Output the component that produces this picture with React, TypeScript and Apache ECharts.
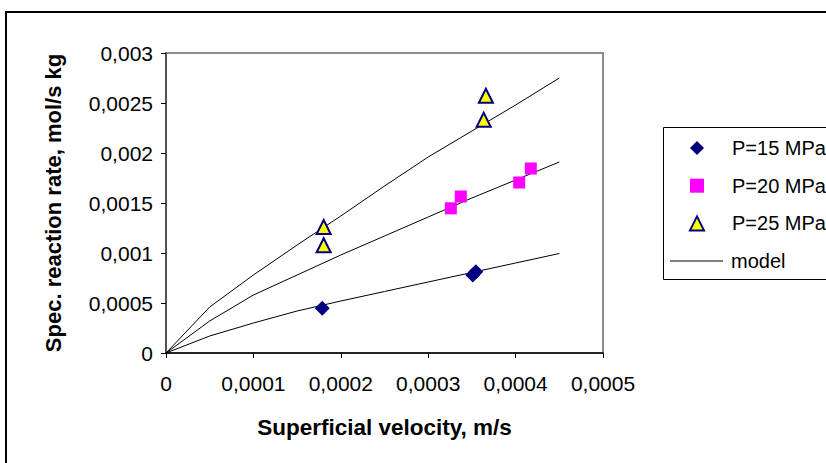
import React, { useEffect, useRef } from "react";
import * as echarts from "echarts";

// P = 15 MPa measurements
const p15X = [0.0001788, 0.000351, 0.0003545];
const p15Y = [0.000447, 0.00078, 0.000813];
// P = 20 MPa measurements
const p20X = [0.0003259, 0.0003373, 0.0004041, 0.0004174];
const p20Y = [0.001447, 0.001565, 0.001705, 0.001845];
// P = 25 MPa measurements
const p25X = [0.0001804, 0.0001804, 0.0003635, 0.000366];
const p25Y = [0.00126, 0.001077, 0.002333, 0.002573];
// model curves
const modelX = [0, 0.00005, 0.0001, 0.00015, 0.0002, 0.00025, 0.0003, 0.00035, 0.0004, 0.00045];
const model15 = [0, 0.00017, 0.0003, 0.00042, 0.00052, 0.000615, 0.00071, 0.000805, 0.0009, 0.000995];
const model20 = [0, 0.00032, 0.00058, 0.00078, 0.00098, 0.00117, 0.00136, 0.00155, 0.00173, 0.00191];
const model25 = [0, 0.00046, 0.00078, 0.00108, 0.00137, 0.00167, 0.00196, 0.00222, 0.00248, 0.00275];

const seriesNames = ["P=15 MPa", "P=20 MPa", "P=25 MPa", "model"];
const xTitle = "Superficial velocity, m/s";
const yTitle = "Spec. reaction rate, mol/s kg";

const FONT = "'Liberation Sans', Arial, sans-serif";

const zip = (xs: number[], ys: number[]) => xs.map((x, i) => [x, ys[i]]);
const fmt = (v: number) => String(Number(v.toFixed(6))).replace(".", ",");

export default function App() {
  const ref = useRef<HTMLDivElement>(null);
  useEffect(() => {
    if (!ref.current) return;
    const chart = echarts.init(ref.current, undefined, { renderer: "svg" });
    const modelLine = (ys: number[]) => ({
      name: seriesNames[3],
      type: "line",
      data: zip(modelX, ys),
      symbol: "none",
      showSymbol: false,
      smooth: false,
      lineStyle: { color: "#000", width: 1 },
      itemStyle: { color: "#000" },
      z: 2,
    });
    const legendText = (padLeft: number) => ({
      fontFamily: FONT,
      fontSize: 20,
      color: "#000",
      lineHeight: 22,
      padding: [0, 0, 0, padLeft],
    });
    chart.setOption({
      animation: false,
      backgroundColor: "#fff",
      textStyle: { fontFamily: FONT },
      graphic: [
        {
          type: "rect",
          shape: { x: 6, y: 12, width: 900, height: 500 },
          style: { fill: "none", stroke: "#000", lineWidth: 2 },
          silent: true,
        },
        {
          type: "rect",
          shape: { x: 663.5, y: 127.5, width: 250, height: 152 },
          style: { fill: "none", stroke: "#000", lineWidth: 1 },
          silent: true,
        },
      ],
      grid: {
        left: 166,
        top: 53,
        width: 437,
        height: 300,
        show: true,
        borderColor: "#8c8c8c",
        borderWidth: 2,
        backgroundColor: "transparent",
      },
      legend: [
        {
          orient: "vertical",
          left: 689,
          top: 137,
          padding: 0,
          itemWidth: 14,
          itemHeight: 14,
          itemGap: 15.7,
          data: seriesNames.slice(0, 3),
          textStyle: legendText(23),
        },
        {
          orient: "vertical",
          left: 670,
          top: 250,
          padding: 0,
          itemWidth: 53,
          itemHeight: 1,
          data: [{ name: seriesNames[3], icon: "rect" }],
          itemStyle: { color: "#000" },
          textStyle: legendText(3),
        },
      ],
      xAxis: {
        type: "value",
        min: 0,
        max: 0.0005,
        interval: 0.0001,
        name: xTitle,
        nameLocation: "middle",
        nameGap: 63,
        nameTextStyle: { fontFamily: FONT, fontSize: 22.5, fontWeight: "bold", color: "#000" },
        axisLine: { show: true, lineStyle: { color: "#000", width: 1.5 } },
        axisTick: { show: true, inside: false, length: 5, lineStyle: { color: "#000" } },
        axisLabel: {
          formatter: fmt,
          fontFamily: FONT,
          fontSize: 21,
          color: "#000",
          margin: 20,
        },
        splitLine: { show: false },
      },
      yAxis: {
        type: "value",
        min: 0,
        max: 0.003,
        interval: 0.0005,
        name: yTitle,
        nameLocation: "middle",
        nameGap: 102,
        nameTextStyle: { fontFamily: FONT, fontSize: 22, fontWeight: "bold", color: "#000" },
        axisLine: { show: true, lineStyle: { color: "#404040", width: 1.5 } },
        axisTick: { show: true, inside: false, length: 5, lineStyle: { color: "#000" } },
        axisLabel: {
          formatter: fmt,
          fontFamily: FONT,
          fontSize: 21,
          color: "#000",
          margin: 13,
        },
        splitLine: { show: false },
      },
      series: [
        modelLine(model15),
        modelLine(model20),
        modelLine(model25),
        {
          name: seriesNames[0],
          type: "scatter",
          data: zip(p15X, p15Y),
          symbol: "diamond",
          symbolSize: 15,
          itemStyle: { color: "#000080", opacity: 1 },
          z: 3,
        },
        {
          name: seriesNames[1],
          type: "scatter",
          data: zip(p20X, p20Y),
          symbol: "rect",
          symbolSize: 12,
          itemStyle: { color: "#ff00ff", opacity: 1 },
          z: 3,
        },
        {
          name: seriesNames[2],
          type: "scatter",
          data: zip(p25X, p25Y),
          symbol: "triangle",
          symbolSize: 14,
          itemStyle: { color: "#ffff00", borderColor: "#000080", borderWidth: 2, opacity: 1 },
          z: 3,
        },
      ],
    });
    return () => chart.dispose();
  }, []);
  return (
    <div
      ref={ref}
      style={{ position: "fixed", left: 0, top: 0, width: 826, height: 463 }}
    />
  );
}
